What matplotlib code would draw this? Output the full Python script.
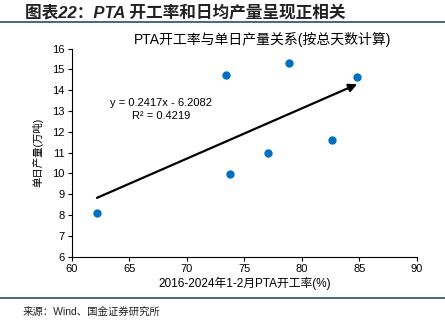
import matplotlib
matplotlib.use('Agg')
import matplotlib.pyplot as plt

plt.rcParams['font.family'] = ['Liberation Sans', 'Noto Sans CJK SC', 'DejaVu Sans']

# 1-2月 PTA 开工率 (%) 与单日产量 (万吨)
rate = [62.2, 73.4, 73.8, 77.1, 78.9, 82.6, 84.8]
output = [8.08, 14.73, 9.95, 10.98, 15.3, 11.63, 14.64]

slope = 0.2417
intercept = -6.2082
r2 = 0.4219

blue = '#0070C0'
line_col = '#1F4E79'

fig = plt.figure(figsize=(4.45, 3.22), dpi=100)
ax = fig.add_axes([0.161, 0.203, 0.776, 0.646])

ax.scatter(rate, output, s=36, color=blue, zorder=3, linewidths=0)

# trend arrow across the data range
x0, x1 = min(rate), max(rate)
ax.annotate('', xy=(x1, slope * x1 + intercept), xytext=(x0, slope * x0 + intercept),
            arrowprops=dict(arrowstyle='-|>', color='black', lw=1.6,
                            mutation_scale=12, shrinkA=0, shrinkB=0))

ax.text(67.8, 13.38, 'y = %.4fx - %.4f' % (slope, -intercept), fontsize=8,
        ha='center', va='center')
ax.text(67.8, 12.76, 'R² = %.4f' % r2, fontsize=8, ha='center', va='center')

ax.set_xlim(60, 90)
ax.set_ylim(6, 16)
ax.set_xticks(range(60, 91, 5))
ax.set_yticks(range(6, 17))
ax.tick_params(labelsize=8, direction='out', length=3, width=0.8, pad=2)
for s in ['top', 'right']:
    ax.spines[s].set_visible(False)
for s in ['left', 'bottom']:
    ax.spines[s].set_linewidth(0.8)

ax.set_xlabel('2016-2024年1-2月PTA开工率(%)', fontsize=8.5, labelpad=2)
ax.set_ylabel('单日产量(万吨)', fontsize=7.5, labelpad=6)
fig.text(0.589, 0.876, 'PTA开工率与单日产量关系(按总天数计算)', fontsize=10,
         ha='center', va='center')

# page header and source footer
fig.text(0.056, 0.962, '图表22：PTA 开工率和日均产量呈现正相关', fontsize=12,
         fontweight='bold', style='italic', color='#222222', va='center')
fig.add_artist(plt.Line2D([0, 1], [0.932, 0.932], color=line_col, lw=1.2))
fig.add_artist(plt.Line2D([0, 1], [0.074, 0.074], color=line_col, lw=1.2))
fig.text(0.05, 0.031, '来源：Wind、国金证券研究所', fontsize=7.5, va='center',
         color='#222222')

fig.savefig('out.png', dpi=100)
